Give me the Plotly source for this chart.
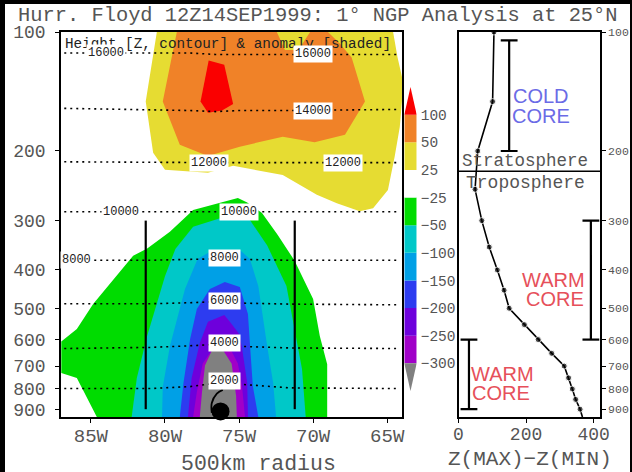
"""
Hurricane Floyd height anomaly cross section at 25N with the Z(MAX)-Z(MIN) profile.
Values are read off the reference picture.
"""

import numpy as np
import plotly.graph_objects as go

WIDTH = 632
HEIGHT = 472
MONO = "Liberation Mono"
SANS = "Liberation Sans"
TEXT_COLOR = "#555555"

# Shaded anomaly bands: boundary longitude (deg W) and pressure (hPa)
band_25_lon = [80.55, 81.3, 80.8, 80.0, 77.1, 75.4, 72.05, 69.75, 68.4, 66.85, 65.95, 64.95, 64.5, 64.15, 64, 64, 64.3, 64.6]
band_25_p = [100, 150, 202, 223, 227, 218, 230, 258, 271, 284, 279, 251, 207, 174, 149, 130, 116, 100]
band_50_lon = [79.2, 80.15, 79.0, 77.1, 74.95, 72.05, 69.9, 67.85, 66.5, 67.4, 68.2, 69.0, 70.2, 71.0, 71.9, 72.45]
band_50_p = [100, 150, 193, 206, 195, 184, 190, 182, 150, 116, 107, 100, 100, 111, 111, 100]
band_100_lon = [77.05, 76.0, 75.4, 76.15, 77.1, 77.6]
band_100_p = [118, 121, 152, 158, 160, 150]
band_m25_lon = [75.08, 78.1, 79.67, 81.2, 82.15, 84.85, 85.95, 87.0, 87.0, 85.95, 84.6, 69.05, 69.05, 69.55, 70.0, 71.25, 72.4, 73.45, 74.45]
band_m25_p = [263, 282, 320, 353, 368, 488, 564, 607, 729, 750, 942, 942, 693, 588, 474, 379, 326, 287, 270]
band_m50_lon = [75.8, 78.1, 79.3, 80.0, 81.2, 81.9, 82.25, 70.5, 70.75, 71.25, 71.8, 73.1, 73.6, 74.27, 74.95]
band_m50_p = [292, 311, 354, 415, 587, 750, 942, 942, 712, 564, 439, 347, 326, 299, 292]
band_m100_lon = [76.75, 77.8, 78.65, 79.67, 80.15, 80.2, 72.5, 72.7, 73.1, 73.7, 74.27, 74.95]
band_m100_p = [356, 375, 447, 624, 791, 942, 942, 772, 624, 439, 375, 356]
band_m150_lon = [75.96, 76.97, 77.85, 78.3, 78.75, 79, 73.7, 74.07, 74.27, 74.4, 74.95]
band_m150_p = [429, 447, 502, 597, 772, 942, 942, 786, 612, 517, 442]
band_m200_lon = [76.0, 77.1, 77.65, 78.2, 78.45, 74.4, 74.45, 74.8, 75.0, 75.62]
band_m200_p = [520, 541, 612, 750, 942, 942, 772, 630, 580, 541]
band_m250_lon = [76.75, 77.45, 77.85, 78.1, 74.6, 74.8, 75.08, 75.62]
band_m250_p = [630, 690, 814, 942, 942, 786, 690, 630]
band_m300_lon = [76.85, 76.1, 75.5, 75.2, 75.15, 77.65, 77.5, 77.3]
band_m300_p = [641, 637, 691, 832, 942, 942, 814, 698]

# Height contours (m), pressure along a shared set of longitudes
height_lon = [86.8, 81, 78.3, 76.6, 75, 71.57, 64.35]
height_16000_p = [113, 113, 113, 114, 114, 114, 114]
height_14000_p = [156, 157, 158, 159, 158, 158, 157]
height_12000_p = [213, 214, 214, 214, 214, 214, 214]
height_10000_p = [285, 285, 285, 284, 285, 285, 285]
height_8000_p = [378, 378, 376, 375, 376, 378, 378]
height_6000_p = [487, 487, 484, 481, 485, 488, 490]
height_4000_p = [632, 628, 622, 617, 624, 630, 632]
height_2000_p = [798, 798, 789, 774, 778, 795, 798]

label_text = ["16000", "16000", "14000", "12000", "12000", "10000", "10000", "8000", "8000", "6000", "4000", "2000"]
label_lon = [84.0, 70.0, 70.0, 77.04, 68.0, 83.0, 75.0, 86.0, 76.0, 76.0, 76.0, 76.0]
label_p = [113, 114, 158, 214, 214, 285, 285, 377, 372, 479, 612, 764]

radius_west_lon = [81.3, 81.3]
radius_east_lon = [71.24, 71.24]
radius_p = [300, 900]
scale_lon = [76.2, 71.24]
scale_p = [1141, 1141]

storm_lon = [76.25]
storm_p = [912]
storm_arc_upper_lon = [76.1, 76.5, 76.84, 76.84]
storm_arc_upper_p = [804, 822, 868, 920]
storm_arc_lower_lon = [75.82, 75.69, 75.96, 76.43]
storm_arc_lower_p = [947, 981, 1016, 1036]

lon_ticks = [85, 80, 75, 70, 65]
lon_labels = ["85W", "80W", "75W", "70W", "65W"]
p_ticks = [100, 200, 300, 400, 500, 600, 700, 800, 900]

# Colour key, bottom to top
key_levels = ["−300", "−250", "−200", "−150", "−100", "−50", "−25", "25", "50", "100"]
key_colors = ["#a000c8", "#6e00dc", "#2d3cf0", "#00a0e6", "#00c8c8", "#00dc00", "#ffffff", "#e6dc32", "#f08228"]
key_low_color = "#808080"
key_high_color = "#fa0000"

# Right panel profile
profile_p = [100, 150, 200, 250, 300, 350, 400, 450, 500, 550, 600, 650, 700, 750, 800, 850, 900, 942]
profile_dz = [105, 101, 57, 49, 69, 91, 115, 135, 150, 195, 236, 276, 313, 326, 337, 347, 360, 367]
tropopause_p = [225, 225]
tropopause_dz = [0, 425]
cold_core_dz = [150, 150]
cold_core_p = [105, 200]
warm_upper_dz = [392, 392]
warm_upper_p = [300, 600]
warm_lower_dz = [31, 31]
warm_lower_p = [600, 900]


def px(x):
    return x / WIDTH


def py(y):
    return 1 - y / HEIGHT


def page_text(x, y, text, size, color=TEXT_COLOR, font=MONO, anchor="center"):
    return dict(
        x=px(x), y=py(y), xref="paper", yref="paper", text=text, showarrow=False,
        xanchor=anchor, yanchor="middle", font=dict(family=font, size=size, color=color),
    )


fig = go.Figure()

bands = [
    (band_25_lon, band_25_p, "#e6dc32"),
    (band_50_lon, band_50_p, "#f08228"),
    (band_100_lon, band_100_p, "#fa0000"),
    (band_m25_lon, band_m25_p, "#00dc00"),
    (band_m50_lon, band_m50_p, "#00c8c8"),
    (band_m100_lon, band_m100_p, "#00a0e6"),
    (band_m150_lon, band_m150_p, "#2d3cf0"),
    (band_m200_lon, band_m200_p, "#6e00dc"),
    (band_m250_lon, band_m250_p, "#a000c8"),
    (band_m300_lon, band_m300_p, "#808080"),
]
for lon, p, color in bands:
    fig.add_trace(go.Scatter(x=lon, y=p, mode="lines", fill="toself", fillcolor=color, line=dict(width=0), hoverinfo="skip"))

heights = [height_16000_p, height_14000_p, height_12000_p, height_10000_p,
           height_8000_p, height_6000_p, height_4000_p, height_2000_p]
for p in heights:
    fig.add_trace(go.Scatter(x=height_lon, y=p, mode="lines", line=dict(color="black", width=1.6, dash="2px,4px"), hoverinfo="skip"))

for lon in [radius_west_lon, radius_east_lon]:
    fig.add_trace(go.Scatter(x=lon, y=radius_p, mode="lines", line=dict(color="black", width=2.2), hoverinfo="skip"))

# 500 km scale bar and the storm symbol hang below the axis, so no clipping
fig.add_trace(go.Scatter(
    x=scale_lon, y=scale_p, mode="lines+markers", cliponaxis=False,
    line=dict(color="black", width=2.2),
    marker=dict(symbol="line-ns", size=10, line=dict(color="black", width=2.2)),
    hoverinfo="skip",
))
fig.add_trace(go.Scatter(x=storm_lon, y=storm_p, mode="markers", cliponaxis=False, marker=dict(color="black", size=18), hoverinfo="skip"))
for lon, p in [(storm_arc_upper_lon, storm_arc_upper_p), (storm_arc_lower_lon, storm_arc_lower_p)]:
    fig.add_trace(go.Scatter(x=lon, y=p, mode="lines", cliponaxis=False, line=dict(color="black", width=1.8, shape="spline"), hoverinfo="skip"))

# Colour key on its own small axes
fig.add_trace(go.Bar(
    x=[1] * len(key_colors), y=[i + 0.5 for i in range(len(key_colors))], width=1, orientation="h",
    marker=dict(color=key_colors, line=dict(width=0)), xaxis="x3", yaxis="y3", hoverinfo="skip",
))
fig.add_trace(go.Scatter(x=[0, 1, 0.5, 0], y=[0, 0, -1, 0], mode="lines", fill="toself", fillcolor=key_low_color, line=dict(width=0), xaxis="x3", yaxis="y3", hoverinfo="skip"))
fig.add_trace(go.Scatter(x=[0, 1, 0.5, 0], y=[9, 9, 10, 9], mode="lines", fill="toself", fillcolor=key_high_color, line=dict(width=0), xaxis="x3", yaxis="y3", hoverinfo="skip"))

# Right panel
fig.add_trace(go.Scatter(
    x=profile_dz, y=profile_p, mode="lines+markers", xaxis="x2", yaxis="y2",
    line=dict(color="black", width=1.6),
    marker=dict(color="black", size=[6] * (len(profile_p) - 1) + [0]),
    hoverinfo="skip",
))
fig.add_trace(go.Scatter(x=tropopause_dz, y=tropopause_p, mode="lines", cliponaxis=False, xaxis="x2", yaxis="y2", line=dict(color="black", width=1.6), hoverinfo="skip"))
for dz, p in [(cold_core_dz, cold_core_p), (warm_upper_dz, warm_upper_p), (warm_lower_dz, warm_lower_p)]:
    fig.add_trace(go.Scatter(
        x=dz, y=p, mode="lines+markers", xaxis="x2", yaxis="y2",
        line=dict(color="black", width=2.2),
        marker=dict(symbol="line-ew", size=12, line=dict(color="black", width=2.2)),
        hoverinfo="skip",
    ))

annotations = [
    page_text(16, 15, "Hurr. Floyd 12Z14SEP1999: 1° NGP Analysis at 25°N", 20.4, anchor="left"),
    page_text(63, 44, "Height [Z, contour] & anomaly [shaded]", 14.3, color="#222222", anchor="left"),
    page_text(258, 464, "500km radius", 21.5),
    page_text(530, 459, "Z(MAX)−Z(MIN)", 21),
    page_text(525, 161, "Stratosphere", 17.5),
    page_text(525, 183, "Troposphere", 18),
    page_text(541, 96, "COLD", 20, color="#6b6be6", font=SANS),
    page_text(541, 116, "CORE", 20, color="#6b6be6", font=SANS),
    page_text(553, 280, "WARM", 20, color="#e6505a", font=SANS),
    page_text(555, 299, "CORE", 20, color="#e6505a", font=SANS),
    page_text(502, 374, "WARM", 20, color="#e6505a", font=SANS),
    page_text(501, 393, "CORE", 20, color="#e6505a", font=SANS),
]
for text, lon, p in zip(label_text, label_lon, label_p):
    annotations.append(dict(
        x=lon, y=np.log10(p), xref="x", yref="y", text=text, showarrow=False, bgcolor="white",
        borderpad=1, font=dict(family=MONO, size=12, color="#222222"),
    ))

axis_style = dict(showgrid=False, zeroline=False, showline=True, linecolor="black", linewidth=1.6,
                  mirror=True, ticks="outside", tickcolor="black", tickwidth=1.2)

fig.update_layout(
    width=WIDTH,
    height=HEIGHT,
    margin=dict(l=0, r=0, t=0, b=0, pad=0, autoexpand=False),
    paper_bgcolor="white",
    plot_bgcolor="white",
    showlegend=False,
    annotations=annotations,
    xaxis=dict(
        axis_style, domain=[px(61), px(402)], range=[87.02, 64.0], tickvals=lon_ticks, ticktext=lon_labels,
        ticklen=4, ticklabelstandoff=-4, tickfont=dict(family=MONO, size=19, color=TEXT_COLOR),
    ),
    yaxis=dict(
        axis_style, domain=[py(417), py(32)], type="log", range=[2.974, 2], tickvals=p_ticks,
        ticktext=[str(p) for p in p_ticks], ticklen=4, ticklabelstandoff=6,
        tickfont=dict(family=MONO, size=18, color=TEXT_COLOR),
    ),
    xaxis2=dict(
        axis_style, domain=[px(458.5), px(600)], range=[0, 419], anchor="y2", tickvals=[0, 200, 400],
        ticklen=4, ticklabelstandoff=-4, tickfont=dict(family=MONO, size=18, color=TEXT_COLOR),
    ),
    yaxis2=dict(
        axis_style, domain=[py(417), py(32)], type="log", range=[2.974, 2], anchor="x2", side="right",
        tickvals=p_ticks, ticktext=[str(p) for p in p_ticks], ticklen=4,
        tickfont=dict(family=MONO, size=11.5, color=TEXT_COLOR),
    ),
    xaxis3=dict(domain=[px(404.3), px(416.7)], range=[0, 1], anchor="y3", visible=False),
    yaxis3=dict(
        domain=[py(391), py(87)], range=[-1, 10], anchor="x3", side="right", showgrid=False, zeroline=False,
        showline=False, ticks="", tickvals=list(range(len(key_levels))), ticktext=key_levels,
        ticklabelstandoff=3, tickfont=dict(family=MONO, size=14.5, color=TEXT_COLOR),
    ),
    # Black strips round the edge of the original screenshot
    shapes=[
        dict(type="rect", xref="paper", yref="paper", x0=0, x1=px(5), y0=0, y1=1, fillcolor="black", line_width=0),
        dict(type="rect", xref="paper", yref="paper", x0=0, x1=1, y0=py(4), y1=1, fillcolor="black", line_width=0),
        dict(type="rect", xref="paper", yref="paper", x0=px(630), x1=1, y0=0, y1=1, fillcolor="black", line_width=0),
    ],
)

fig.write_html(
    "out.html",
    config={"displayModeBar": False},
    post_script="document.body.style.cssText='margin:0;padding:0;overflow:hidden';"
    "document.documentElement.style.overflow='hidden';",
)
